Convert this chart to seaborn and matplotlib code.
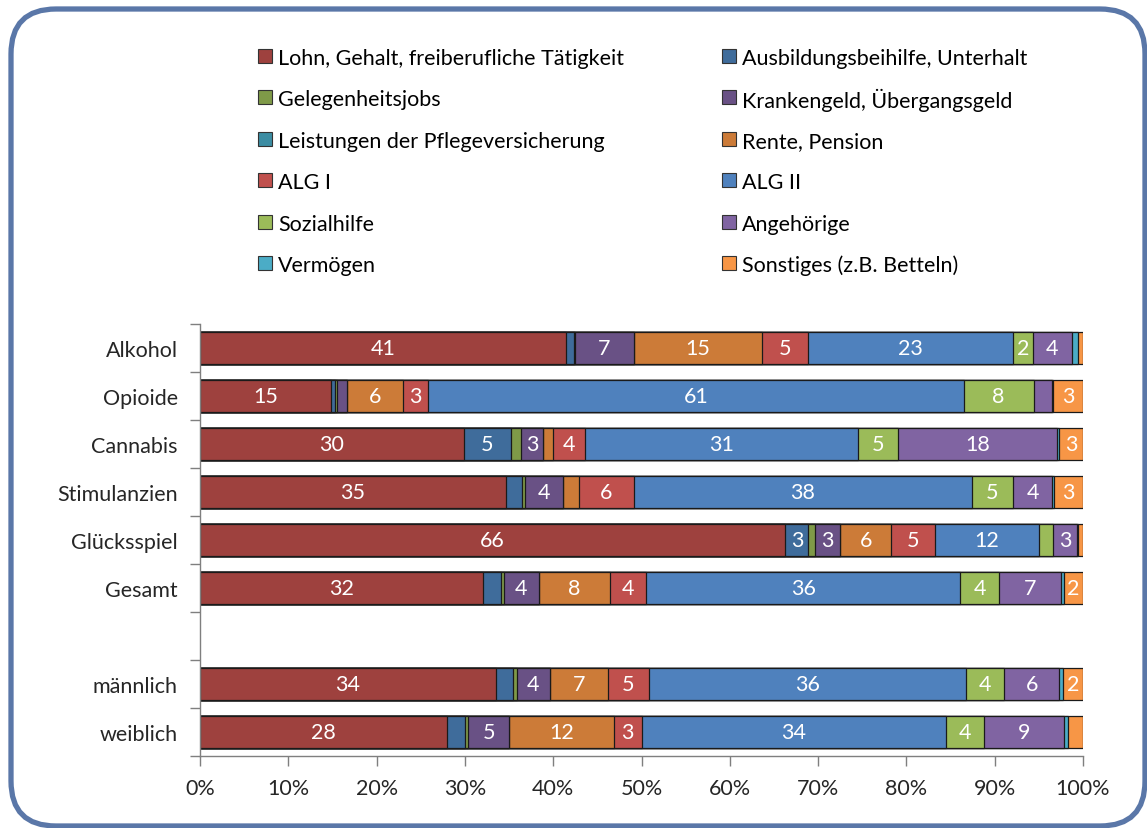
import numpy as np
import pandas as pd
import matplotlib
matplotlib.use("Agg")
import matplotlib.pyplot as plt
import seaborn as sns
from matplotlib.patches import FancyBboxPatch, Rectangle
from matplotlib.ticker import FixedLocator, PercentFormatter

# categories (blank entry = spacer row between Gesamt and the gender rows)
categories = ["Alkohol", "Opioide", "Cannabis", "Stimulanzien", "Glücksspiel",
              "Gesamt", "männlich", "weiblich"]
row_order = ["Alkohol", "Opioide", "Cannabis", "Stimulanzien", "Glücksspiel",
             "Gesamt", " ", "männlich", "weiblich"]

# share in percent per income source, one value per category above
lohn = [41.4, 14.8, 29.9, 34.6, 66.3, 32.0, 33.5, 28.0]
ausbildung = [0.9, 0.5, 5.3, 1.9, 2.6, 2.1, 2.0, 2.0]
gelegenheit = [0.2, 0.2, 1.1, 0.3, 0.8, 0.3, 0.4, 0.4]
krankengeld = [6.6, 1.1, 2.6, 4.3, 2.8, 4.0, 3.7, 4.6]
pflege = [0.0, 0.0, 0.0, 0.0, 0.0, 0.0, 0.0, 0.0]
rente = [14.6, 6.4, 1.1, 1.8, 5.8, 8.0, 6.6, 11.9]
alg1 = [5.1, 2.8, 3.6, 6.2, 4.9, 4.1, 4.6, 3.1]
alg2 = [23.3, 60.7, 30.9, 38.3, 11.8, 35.6, 35.9, 34.5]
sozialhilfe = [2.2, 7.9, 4.6, 4.7, 1.6, 4.4, 4.4, 4.3]
angehoerige = [4.4, 2.1, 18.0, 4.4, 2.7, 7.0, 6.2, 9.1]
vermoegen = [0.7, 0.1, 0.2, 0.2, 0.1, 0.3, 0.4, 0.4]
sonstiges = [0.6, 3.4, 2.7, 3.3, 0.6, 2.2, 2.3, 1.7]

series_names = ["Lohn, Gehalt, freiberufliche Tätigkeit", "Ausbildungsbeihilfe, Unterhalt",
                "Gelegenheitsjobs", "Krankengeld, Übergangsgeld",
                "Leistungen der Pflegeversicherung", "Rente, Pension",
                "ALG I", "ALG II", "Sozialhilfe", "Angehörige",
                "Vermögen", "Sonstiges (z.B. Betteln)"]
series_values = [lohn, ausbildung, gelegenheit, krankengeld, pflege, rente,
                 alg1, alg2, sozialhilfe, angehoerige, vermoegen, sonstiges]
series_colors = ["#9E413E", "#3F6C9B", "#7F9A48", "#695185", "#3C8DA3", "#CC7B38",
                 "#C0504D", "#4F81BD", "#9BBB59", "#8064A2", "#4BACC6", "#F79646"]

label_min = 2.2  # smaller segments carry no number

sns.set_style("white")
plt.rcParams["font.family"] = ["Lato", "DejaVu Sans"]
FS = 15.5
W, H = 1147, 829

vals = pd.DataFrame(np.array(series_values).T, index=categories, columns=series_names)
cum = vals.cumsum(axis=1)

fig = plt.figure(figsize=(W / 100, H / 100), dpi=100)
ax = fig.add_axes([200 / W, 72 / H, 883 / W, 432 / H])

# stacked bars: draw cumulative totals from the longest to the shortest
for name, color in reversed(list(zip(series_names, series_colors))):
    d = pd.DataFrame({"cat": categories, "val": cum[name].values})
    sns.barplot(data=d, x="val", y="cat", order=row_order, orient="h",
                color=color, saturation=1, width=0.67, edgecolor="#1a1a1a",
                linewidth=0.9, ax=ax)

# value labels in the middle of each segment
pos = {c: row_order.index(c) for c in categories}
for name in series_names:
    for c in categories:
        v = vals.loc[c, name]
        if v >= label_min:
            xc = cum.loc[c, name] - v / 2
            ax.text(xc, pos[c], f"{int(round(v))}", ha="center", va="center",
                    color="white", fontsize=FS)

ax.set_xlim(0, 100)
ax.set_ylim(len(row_order) - 0.5, -0.5)
ax.set_xlabel("")
ax.set_ylabel("")
ax.xaxis.set_major_locator(FixedLocator(np.arange(0, 101, 10)))
ax.xaxis.set_major_formatter(PercentFormatter(decimals=0))

ax.set_yticks(np.arange(-0.5, len(row_order), 1))
ax.set_yticklabels([])
ax.set_yticks(np.arange(len(row_order)), minor=True)
ax.set_yticklabels(row_order, minor=True)
ax.tick_params(axis="y", which="major", left=True, length=7, width=1,
               color="#7f7f7f", direction="out")
ax.tick_params(axis="y", which="minor", left=True, length=0, pad=16, labelsize=FS)
ax.tick_params(axis="x", bottom=True, length=7, width=1, color="#7f7f7f",
               direction="out", labelsize=FS, pad=9)

for s in ["top", "right"]:
    ax.spines[s].set_visible(False)
for s in ["left", "bottom"]:
    ax.spines[s].set_color("#7f7f7f")
    ax.spines[s].set_linewidth(1.0)
ax.grid(False)

# legend, two columns filled row by row
for i, (name, color) in enumerate(zip(series_names, series_colors)):
    col, row = i % 2, i // 2
    x0 = 258 if col == 0 else 722
    yc = 57 + row * 41.4
    fig.add_artist(Rectangle((x0 / W, 1 - (yc + 7) / H), 14 / W, 14 / H,
                             transform=fig.transFigure, facecolor=color,
                             edgecolor="#333333", linewidth=0.8))
    fig.text((x0 + 20) / W, 1 - yc / H, name, ha="left", va="center_baseline",
             fontsize=FS, color="black")

# rounded frame around the whole chart
frame = FancyBboxPatch((0.11, 0.02), 11.34, 8.17,
                       boxstyle="round,pad=0,rounding_size=0.45",
                       transform=fig.dpi_scale_trans, fill=False,
                       edgecolor="#5A77A8", linewidth=3.8, clip_on=False)
fig.add_artist(frame)

fig.savefig("out.png", dpi=100)
